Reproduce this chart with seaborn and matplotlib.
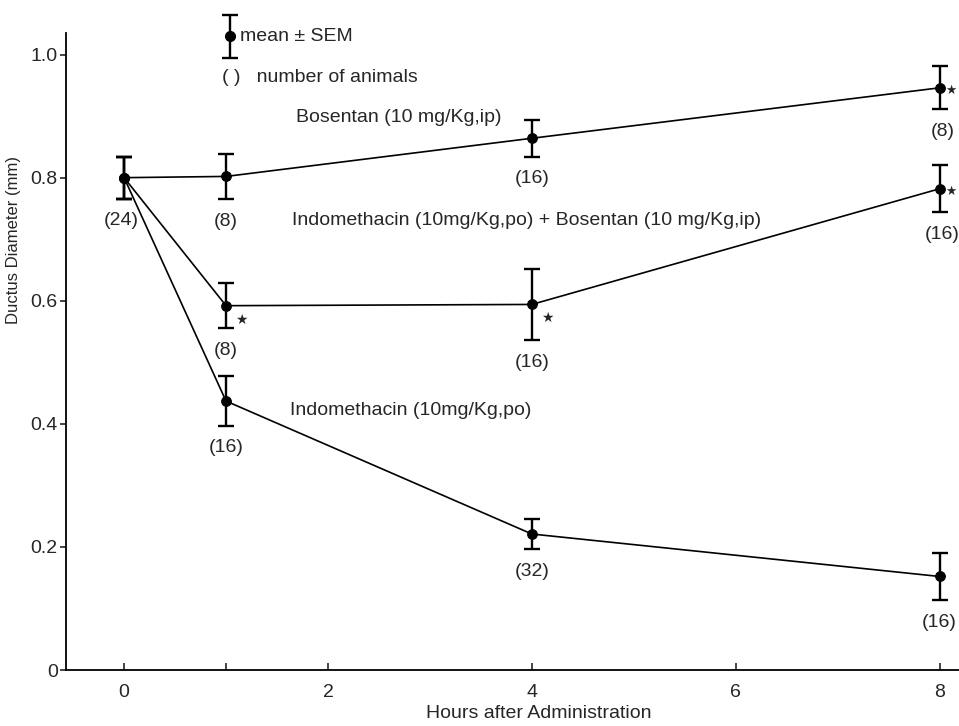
import numpy as np
import pandas as pd
import matplotlib
matplotlib.use('Agg')
import matplotlib.pyplot as plt
import seaborn as sns

# data
hours = [0, 1, 4, 8]
bosentan = [0.800, 0.802, 0.864, 0.946]
bosentan_sem = [0.034, 0.037, 0.030, 0.035]
bosentan_n = ['(24)', '(8)', '(16)', '(8)']

combo = [0.800, 0.592, 0.594, 0.782]
combo_sem = [0.034, 0.037, 0.058, 0.038]
combo_n = [None, '(8)', '(16)', '(16)']

indo = [0.800, 0.437, 0.221, 0.152]
indo_sem = [0.034, 0.040, 0.025, 0.038]
indo_n = [None, '(16)', '(32)', '(16)']

bosentan_star = [False, False, False, True]
combo_star = [False, True, True, True]

series_names = ['Bosentan (10 mg/Kg,ip)',
                'Indomethacin (10mg/Kg,po) + Bosentan (10 mg/Kg,ip)',
                'Indomethacin (10mg/Kg,po)']

df = pd.DataFrame({
    'hours': hours * 3,
    'diameter': bosentan + combo + indo,
    'sem': bosentan_sem + combo_sem + indo_sem,
    'group': [series_names[0]] * 4 + [series_names[1]] * 4 + [series_names[2]] * 4,
})

sns.set_style('ticks')
plt.rcParams['font.family'] = ['Liberation Sans', 'DejaVu Sans']
FS = 14

fig = plt.figure(figsize=(9.59, 7.26), dpi=100)
ax = fig.add_axes([0.0688, 0.0771, 0.9312, 0.8774])

sns.lineplot(data=df, x='hours', y='diameter', units='group', estimator=None,
             color='black', linewidth=1.2, marker='o', markersize=7,
             markeredgecolor='black', ax=ax, legend=False)

for name in series_names:
    sub = df[df['group'] == name]
    ax.errorbar(sub['hours'], sub['diameter'], yerr=sub['sem'], fmt='none',
                ecolor='black', elinewidth=1.7, capsize=6, capthick=1.7)

# number of animals
offsets_bos = [(-2, -16), (0, -16), (0, -16), (2, -16)]
for h, v, s, n, off in zip(hours, bosentan, bosentan_sem, bosentan_n, offsets_bos):
    ax.annotate(n, xy=(h, v - s), xytext=off, textcoords='offset points',
                ha='center', va='center', fontsize=FS)
for h, v, s, n in zip(hours, combo, combo_sem, combo_n):
    if n:
        ax.annotate(n, xy=(h, v - s), xytext=(2 if h == 8 else 0, -16),
                    textcoords='offset points', ha='center', va='center', fontsize=FS)
for h, v, s, n in zip(hours, indo, indo_sem, indo_n):
    if n:
        ax.annotate(n, xy=(h, v - s), xytext=(0, -16),
                    textcoords='offset points', ha='center', va='center', fontsize=FS)

# significance stars
for h, v, st in zip(hours, bosentan, bosentan_star):
    if st:
        ax.annotate('★', xy=(h, v), xytext=(8, -2), textcoords='offset points',
                    ha='center', va='center', fontsize=9, family=['DejaVu Sans'])
for h, v, st in zip(hours, combo, combo_star):
    if st:
        ax.annotate('★', xy=(h, v), xytext=(11 if h < 8 else 8, -10 if h < 8 else -2),
                    textcoords='offset points', ha='center', va='center',
                    fontsize=10 if h < 8 else 9, family=['DejaVu Sans'])

# series labels
ax.text(1.69, 0.897, series_names[0], fontsize=FS, va='center')
ax.text(1.65, 0.731, series_names[1], fontsize=FS, va='center')
ax.text(1.63, 0.422, series_names[2], fontsize=FS, va='center')

# key
ax.errorbar([1.04], [1.030], yerr=[0.035], fmt='o', color='black', markersize=7,
            elinewidth=1.7, capsize=6, capthick=1.7, clip_on=False)
ax.text(1.14, 1.030, 'mean ± SEM', fontsize=FS, va='center')
ax.text(0.96, 0.963, '( )   number of animals', fontsize=FS, va='center')

ax.set_xlim(-0.57, 8.19)
ax.set_ylim(0, 1.035)
ax.set_xticks([0, 1, 2, 4, 6, 8])
ax.set_xticklabels(['0', '', '2', '4', '6', '8'])
ax.set_yticks([0, 0.2, 0.4, 0.6, 0.8, 1.0])
ax.set_yticklabels(['0', '0.2', '0.4', '0.6', '0.8', '1.0'])
ax.tick_params(axis='x', direction='in', length=5, width=1.2, labelsize=FS, pad=10)
ax.tick_params(axis='y', direction='out', length=4, width=1.2, labelsize=FS, pad=2)
sns.despine(ax=ax)
for sp in ['left', 'bottom']:
    ax.spines[sp].set_linewidth(1.3)
    ax.spines[sp].set_color('black')

ax.set_xlabel('Hours after Administration', fontsize=FS)
ax.set_ylabel('Ductus Diameter (mm)', fontsize=12)
ax.xaxis.set_label_coords(0.529, -0.055)
ax.yaxis.set_label_coords(-0.05, 0.675)

fig.savefig('out.png', dpi=100)
